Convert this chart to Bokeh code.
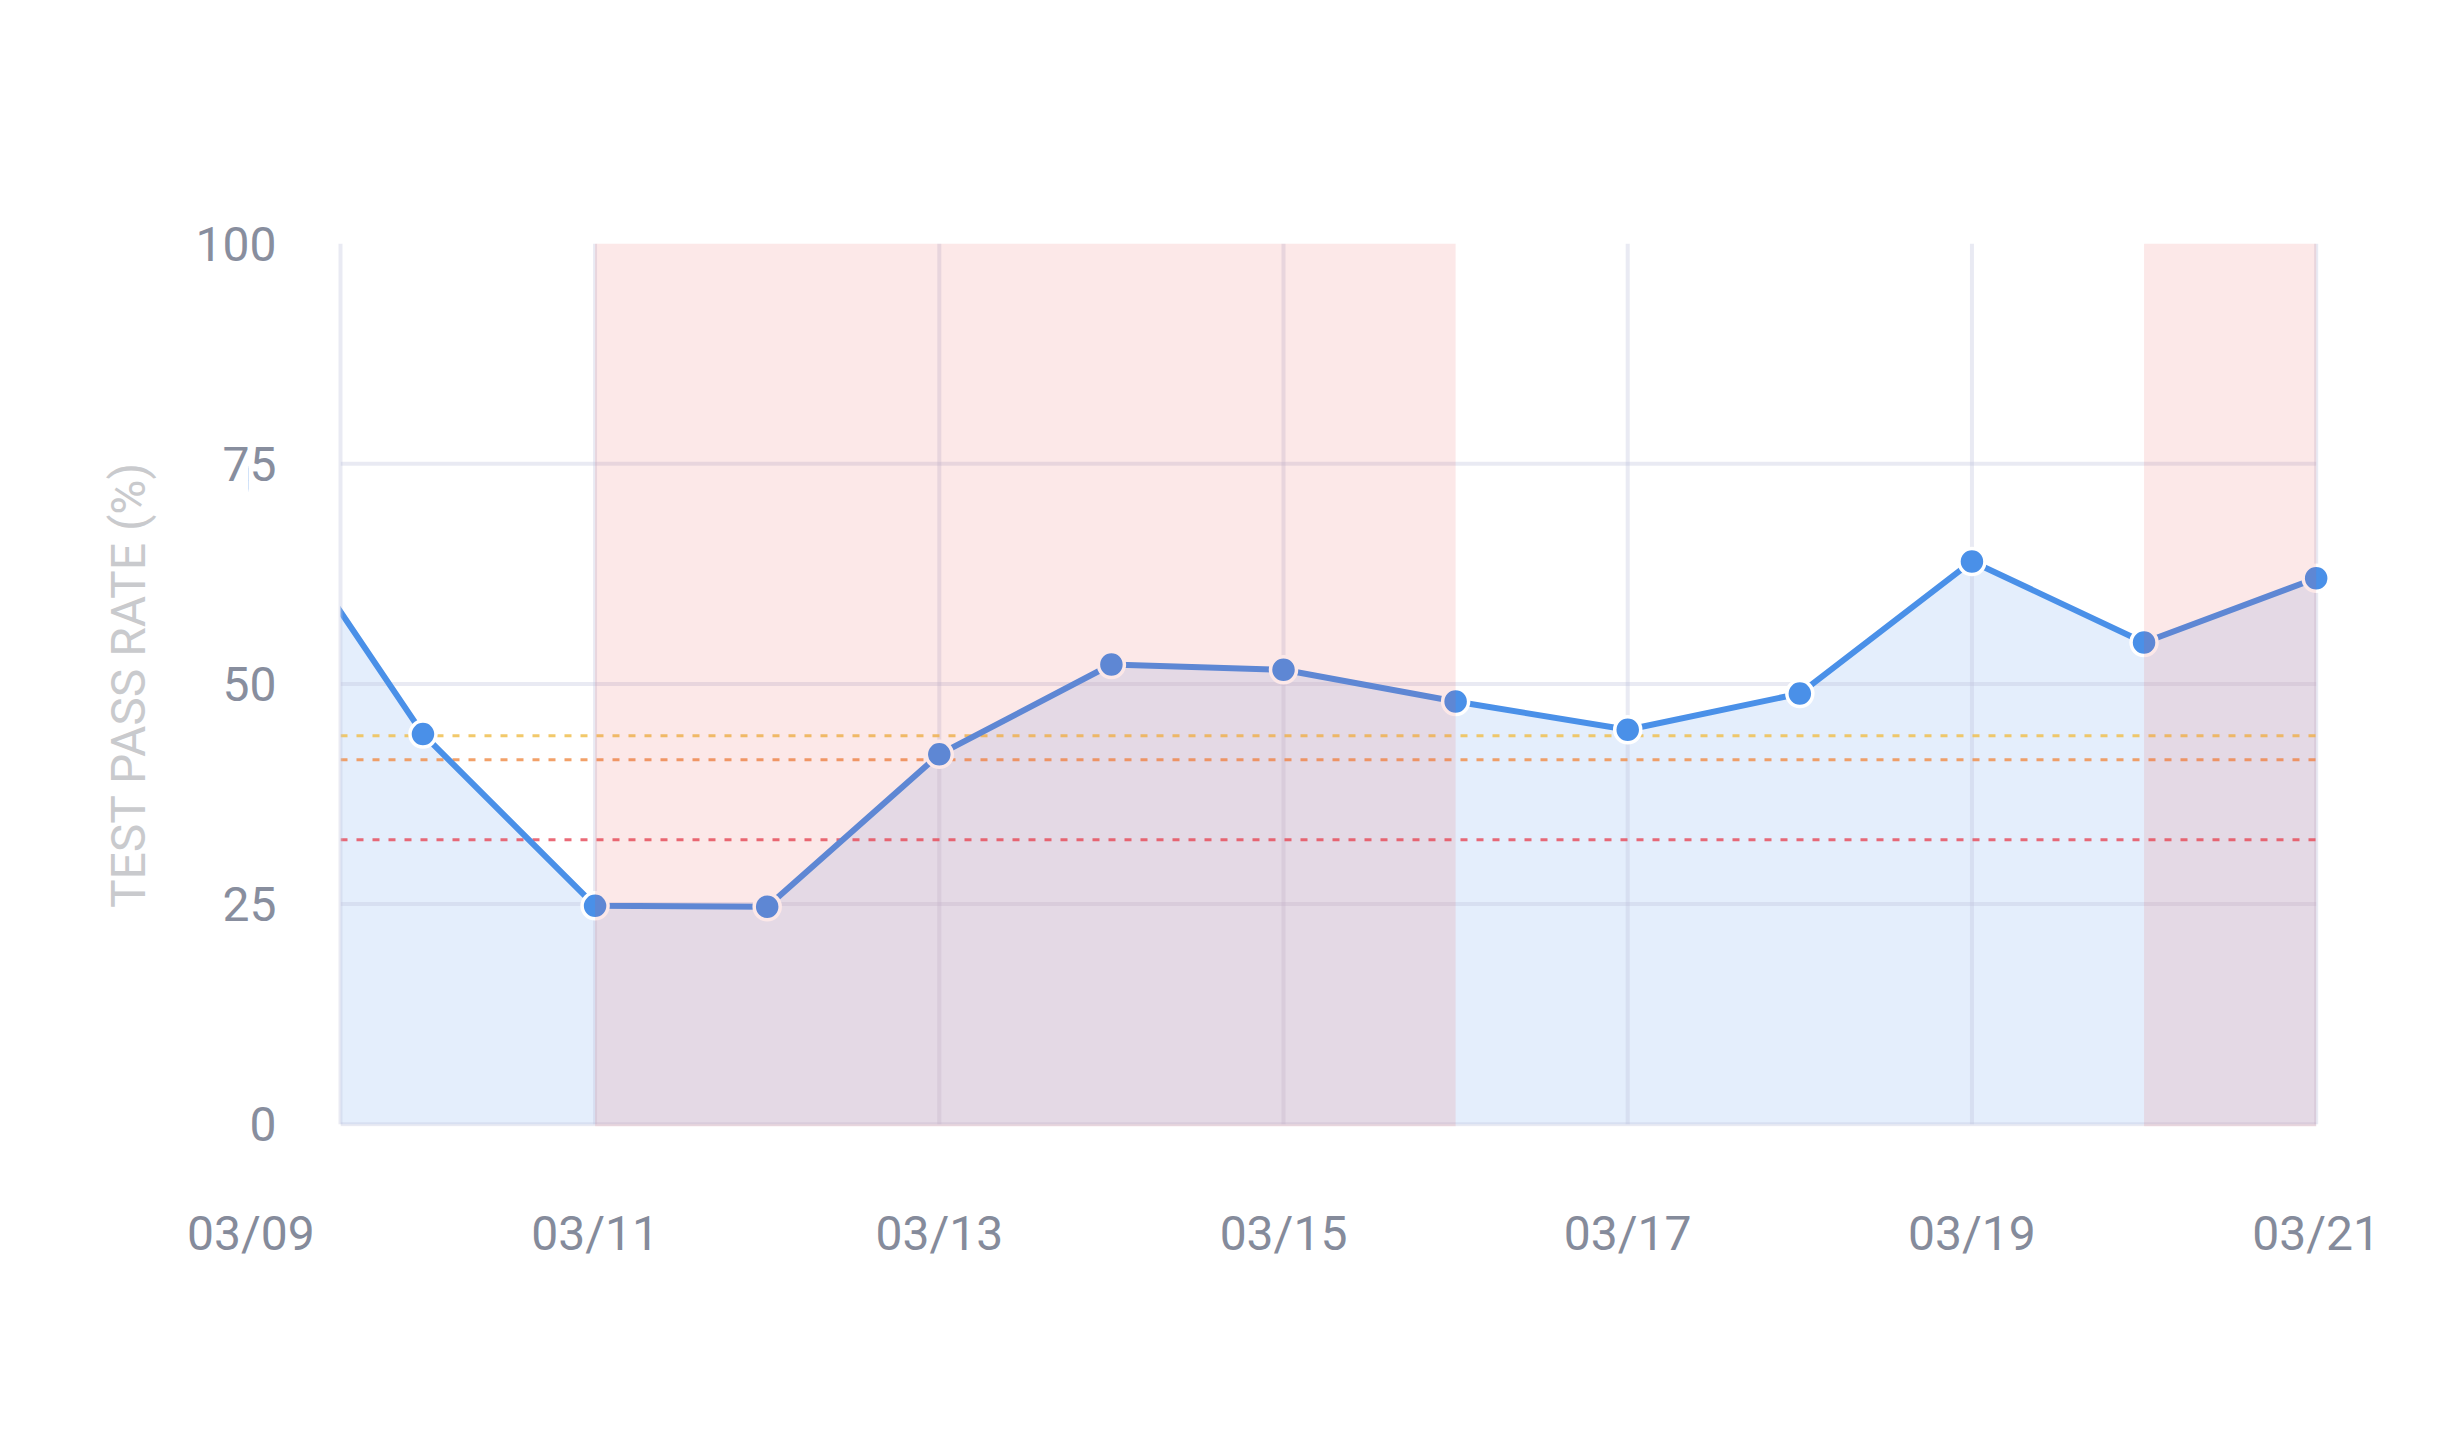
import pandas as pd
from bokeh.plotting import figure
from bokeh.models import Range1d, FixedTicker, ColumnDataSource, BoxAnnotation, DatetimeTickFormatter
from bokeh.embed import file_html
from bokeh.resources import INLINE

# ---------------- data ----------------
dates = ["2021-03-09", "2021-03-10", "2021-03-11", "2021-03-12", "2021-03-13",
         "2021-03-14", "2021-03-15", "2021-03-16", "2021-03-17", "2021-03-18",
         "2021-03-19", "2021-03-20", "2021-03-21"]
pass_rate = [73.3, 44.3, 24.8, 24.7, 42.0, 52.2, 51.6, 48.0, 44.8, 48.9, 63.9, 54.7, 62.0]

threshold_values = [44.1, 41.4, 32.3]
threshold_colors = ["#f0c050", "#f0904f", "#e6505f"]

failing_starts = ["2021-03-11", "2021-03-20"]
failing_ends = ["2021-03-16", "2021-03-21"]

x_tick_dates = ["2021-03-09", "2021-03-11", "2021-03-13", "2021-03-15",
                "2021-03-17", "2021-03-19", "2021-03-21"]
x_tick_labels = ["03/09", "03/11", "03/13", "03/15", "03/17", "03/19", "03/21"]
y_ticks = [0, 25, 50, 75, 100]
y_grid = [0, 25, 50, 75]

# ---------------- setup ----------------
FONT = "Roboto"
LINE = "#4a90e8"
GRID = "#c0c4dc"
TICK_COLOR = "#858b9b"

W, H = 2440, 1432
FRAME_LEFT = 248          # canvas frame edge (leaves room for the 03/09 label)
AREA_LEFT = 340           # where the chart area begins
RIGHT, TOP, BOTTOM = 110, 243, 306

x = pd.to_datetime(dates)
x_start = pd.Timestamp("2021-03-09 12:30")   # left edge of the chart area
x_end = pd.Timestamp("2021-03-21 02:00")
last = x[-1]
tick_x = pd.to_datetime(x_tick_dates)

ms_per_px = (x_end - x_start) / (W - RIGHT - AREA_LEFT)
range_start = x_start - (AREA_LEFT - FRAME_LEFT) * ms_per_px

p = figure(width=W, height=H, x_axis_type="datetime",
           x_range=Range1d(range_start, x_end), y_range=Range1d(-0.25, 100),
           output_backend="svg", toolbar_location=None,
           min_border_left=FRAME_LEFT, min_border_right=RIGHT,
           min_border_top=TOP, min_border_bottom=BOTTOM)
p.outline_line_color = None
p.xgrid.visible = False
p.ygrid.visible = False
p.background_fill_color = "white"
p.border_fill_color = "white"

# area fill under the line
src = ColumnDataSource(dict(x=x, y=pass_rate))
p.varea(x="x", y1=0, y2="y", source=src, fill_color=LINE, fill_alpha=0.15)

# grid lines (drawn over the fill)
p.segment(x0=[x_start] * len(y_grid), x1=[last] * len(y_grid), y0=y_grid, y1=y_grid,
          line_color=GRID, line_alpha=0.35, line_width=4)
vx = list(tick_x[1:])
p.segment(x0=vx, x1=vx, y0=[0] * len(vx), y1=[100] * len(vx),
          line_color=GRID, line_alpha=0.35, line_width=4)

# threshold lines
for v, c in zip(threshold_values, threshold_colors):
    p.segment(x0=[x_start], x1=[last], y0=[v], y1=[v], line_color=c, line_alpha=0.85,
              line_width=3, line_dash="7 9")

# main line + markers
p.line(x="x", y="y", source=src, line_color=LINE, line_width=6, line_join="round")
p.scatter(x="x", y="y", source=src, size=26, fill_color=LINE, line_color="white",
          line_width=3.5)

# the series is cut at the left edge of the chart area
p.quad(left=[range_start - pd.Timedelta(days=2)], right=[x_start], bottom=[-10], top=[110],
       fill_color="white", line_color=None)
p.segment(x0=[x_start], x1=[x_start], y0=[0], y1=[100],
          line_color=GRID, line_alpha=0.35, line_width=4)

# failing periods
for s, e in zip(failing_starts, failing_ends):
    p.add_layout(BoxAnnotation(left=pd.Timestamp(s), right=pd.Timestamp(e),
                               fill_color="#e84a4a", fill_alpha=0.13, line_color=None))

# y axis (labels reach into the white margin left of the chart area)
ax = p.yaxis[0]
ax.ticker = FixedTicker(ticks=y_ticks)
ax.axis_line_color = None
ax.major_tick_line_color = None
ax.minor_tick_line_color = None
ax.major_tick_out = 0
ax.major_tick_in = 0
ax.major_label_standoff = FRAME_LEFT - AREA_LEFT + 64
ax.major_label_text_font = FONT
ax.major_label_text_font_size = "48px"
ax.major_label_text_color = "#888e9e"
ax.axis_label = "TEST PASS RATE (%)"
ax.axis_label_text_font = FONT
ax.axis_label_text_font_size = "48px"
ax.axis_label_text_font_style = "normal"
ax.axis_label_text_color = "#c9cacd"
ax.axis_label_standoff = 36

# x axis
xa = p.xaxis[0]
xa.ticker = FixedTicker(ticks=[t.value // 10**6 for t in tick_x])
xa.formatter = DatetimeTickFormatter(days="%m/%d", months="%m/%d", hours="%m/%d")
xa.axis_line_color = None
xa.major_tick_line_color = None
xa.minor_tick_line_color = None
xa.major_tick_out = 0
xa.major_tick_in = 0
xa.major_label_standoff = 78
xa.major_label_text_font = FONT
xa.major_label_text_font_size = "48px"
xa.major_label_text_color = TICK_COLOR

open("out.html", "w").write(file_html(p, INLINE))
